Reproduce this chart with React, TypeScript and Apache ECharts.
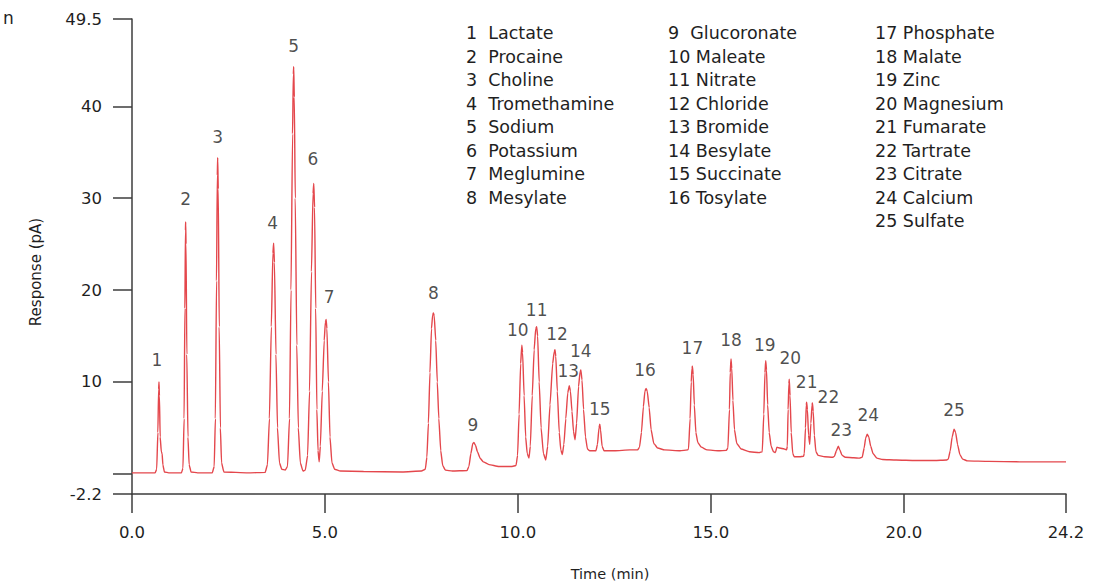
import { useEffect, useRef } from "react";
import * as echarts from "echarts";

// Analytes, in elution order (peak n = compounds[n - 1])
const compounds = [
  "Lactate", "Procaine", "Choline", "Tromethamine", "Sodium", "Potassium", "Meglumine", "Mesylate",
  "Glucoronate", "Maleate", "Nitrate", "Chloride", "Bromide", "Besylate", "Succinate", "Tosylate",
  "Phosphate", "Malate", "Zinc", "Magnesium", "Fumarate", "Tartrate", "Citrate", "Calcium", "Sulfate",
];

// Detector trace: [time (min), response (pA)]
const trace: [number, number][] = [
  [0, 0.1], [0.3, 0.1], [0.6, 0.1], [0.64, 0.5], [0.67, 4.5], [0.69, 9.2], [0.7, 10.0], [0.71, 8.5], [0.73, 4.0], [0.76, 2.4], [0.78, 2.2], [0.8, 1.0], [0.84, 0.2], [0.95, 0.1],
  [1.28, 0.1], [1.32, 0.6], [1.35, 6], [1.37, 18], [1.385, 26.5], [1.39, 27.4], [1.4, 25], [1.42, 13], [1.45, 4], [1.48, 1.0], [1.53, 0.2], [1.7, 0.1],
  [2.08, 0.1], [2.13, 0.8], [2.16, 6], [2.19, 21], [2.21, 32.5], [2.22, 34.4], [2.235, 31], [2.26, 16], [2.29, 5], [2.32, 1.2], [2.38, 0.2], [3.0, 0.1],
  [3.45, 0.15], [3.51, 1.0], [3.56, 6], [3.61, 16], [3.65, 24], [3.67, 25.1], [3.69, 23], [3.73, 13], [3.77, 5], [3.82, 1.2], [3.88, 0.5], [3.97, 0.4],
  [4.03, 0.8], [4.08, 6], [4.12, 20], [4.16, 37], [4.18, 43.5], [4.19, 44.3], [4.205, 41], [4.23, 30], [4.27, 14], [4.31, 5], [4.36, 1.2], [4.43, 0.3],
  [4.49, 0.4], [4.55, 2], [4.6, 9], [4.65, 22], [4.69, 30.5], [4.71, 31.6], [4.73, 29], [4.76, 18], [4.79, 7], [4.82, 2.5], [4.85, 1.3],
  [4.88, 3], [4.93, 9], [4.98, 14.5], [5.01, 16.5], [5.03, 16.8], [5.05, 15.8], [5.09, 10], [5.13, 4], [5.18, 1.2], [5.25, 0.5], [5.4, 0.3],
  [6.0, 0.25], [7.0, 0.2], [7.5, 0.3],
  [7.6, 0.5], [7.64, 1.8], [7.68, 5.5], [7.72, 11], [7.76, 15.8], [7.79, 17.3], [7.81, 17.5], [7.83, 17.2], [7.87, 14.5], [7.91, 10], [7.95, 6], [8.0, 2.5], [8.05, 0.9], [8.12, 0.4], [8.3, 0.3],
  [8.68, 0.35], [8.73, 0.8], [8.78, 2.2], [8.83, 3.3], [8.86, 3.4], [8.9, 3.1], [8.95, 2.4], [9.02, 1.7], [9.1, 1.3], [9.25, 1.0], [9.5, 0.8], [9.85, 0.8],
  [9.95, 0.9], [9.99, 2], [10.03, 6.5], [10.07, 12], [10.1, 14.0], [10.12, 13.2], [10.16, 8.5], [10.2, 4], [10.24, 2.2], [10.285, 1.7],
  [10.32, 3], [10.37, 8.5], [10.42, 13.5], [10.46, 15.8], [10.485, 16.0], [10.51, 15], [10.55, 10], [10.6, 5], [10.66, 2.2], [10.72, 1.5],
  [10.77, 3], [10.83, 7.5], [10.9, 12], [10.94, 13.3], [10.96, 13.5], [10.98, 12.8], [11.02, 9], [11.07, 4.5], [11.11, 2.6], [11.15, 2.1],
  [11.19, 3.2], [11.24, 6], [11.29, 8.8], [11.33, 9.6], [11.36, 9.0], [11.4, 6.8], [11.44, 4.6], [11.48, 3.7],
  [11.52, 5.5], [11.57, 9.5], [11.61, 11.1], [11.63, 11.3], [11.66, 10.2], [11.7, 7], [11.75, 4], [11.8, 2.7], [11.86, 2.5],
  [12.02, 2.5], [12.06, 3.2], [12.1, 5.0], [12.12, 5.4], [12.14, 4.8], [12.18, 3.0], [12.23, 2.5], [12.5, 2.5], [12.9, 2.6], [13.1, 2.6],
  [13.15, 2.9], [13.2, 4.5], [13.25, 7.3], [13.29, 9.0], [13.32, 9.3], [13.35, 9.0], [13.4, 7.2], [13.45, 4.8], [13.52, 3.3], [13.62, 2.8], [13.8, 2.6], [14.2, 2.5], [14.4, 2.6],
  [14.42, 2.7], [14.46, 6], [14.49, 10], [14.51, 11.5], [14.52, 11.7], [14.54, 10.8], [14.57, 7.5], [14.61, 4.5], [14.66, 3.4], [14.75, 2.9], [14.9, 2.6], [15.2, 2.5], [15.4, 2.55],
  [15.44, 2.8], [15.48, 7], [15.5, 11], [15.52, 12.5], [15.54, 11.5], [15.57, 8], [15.61, 4.8], [15.67, 3.3], [15.78, 2.7], [16.0, 2.4], [16.25, 2.3],
  [16.33, 2.4], [16.37, 6.5], [16.4, 11], [16.42, 12.3], [16.44, 11.3], [16.47, 7.5], [16.51, 4.5], [16.56, 3.0], [16.62, 2.4], [16.67, 2.3], [16.71, 2.9], [16.78, 2.8], [16.9, 2.7], [16.96, 2.6],
  [16.98, 3.0], [17.0, 7], [17.02, 9.8], [17.03, 10.3], [17.05, 8.5], [17.08, 4.5], [17.12, 2.2], [17.16, 1.85], [17.3, 1.85], [17.4, 1.9],
  [17.42, 2.2], [17.45, 5], [17.47, 7.5], [17.48, 7.8], [17.5, 7.0], [17.53, 4.2], [17.56, 3.2],
  [17.59, 5.5], [17.62, 7.5], [17.63, 7.7], [17.65, 6.8], [17.68, 4.2], [17.72, 2.4], [17.78, 2.0], [17.95, 1.85], [18.15, 1.8],
  [18.2, 1.9], [18.25, 2.5], [18.3, 3.0], [18.34, 2.6], [18.4, 2.0], [18.48, 1.8], [18.7, 1.75], [18.85, 1.7],
  [18.92, 1.8], [18.97, 2.8], [19.01, 3.9], [19.05, 4.3], [19.09, 4.0], [19.14, 3.0], [19.2, 2.2], [19.3, 1.7], [19.45, 1.55], [19.8, 1.5], [20.3, 1.45], [20.8, 1.45], [21.1, 1.5],
  [21.15, 1.6], [21.2, 2.5], [21.25, 4.0], [21.3, 4.85], [21.34, 4.5], [21.39, 3.2], [21.45, 2.1], [21.52, 1.6], [21.65, 1.4], [22.2, 1.35], [23.0, 1.3], [24.2, 1.3],
];

// Peak apexes (retention time, height) for numbering
const peakTimes = [
  0.7, 1.39, 2.22, 3.67, 4.19, 4.71, 5.03, 7.81, 8.86, 10.1, 10.485, 10.96, 11.33,
  11.63, 12.12, 13.32, 14.52, 15.52, 16.42, 17.03, 17.48, 17.63, 18.3, 19.05, 21.3,
];
const peakHeights = [
  10.0, 27.4, 34.4, 25.1, 44.3, 31.6, 16.8, 17.5, 3.4, 14.0, 16.0, 13.5, 9.6,
  11.3, 5.4, 9.3, 11.7, 12.5, 12.3, 10.3, 7.8, 7.7, 3.0, 4.3, 4.85,
];

// Axis ticks
const xTicks = [0, 5, 10, 15, 20, 24.2];
const yTicks = [-2.2, 0, 10, 20, 30, 40, 49.5];
const yTickLabels = [-2.2, 10, 20, 30, 40, 49.5];

// Pixel offset of each peak number from its apex
const labelOffsets: [number, number][] = [
  [-2, -22], [0, -23], [0, -21], [-1, -20], [0, -21], [-1, -24], [3, -22], [0, -20], [-1, -18],
  [-4, -15], [0, -17], [2, -16], [-1, -15], [0, -19], [0, -15], [-1, -18], [0, -18], [0, -19],
  [-1, -16], [1, -21], [0, -20], [16, -6], [3, -16], [1, -19], [0, -19],
];

const FONT = "'DejaVu Sans', 'Liberation Sans', Arial, sans-serif";
const TEXT = "#1f1f1f";
const AXIS = "#3c3c3c";
const TRACE = "#e4474c";

export default function App() {
  const ref = useRef<HTMLDivElement>(null);

  useEffect(() => {
    if (!ref.current) return;
    const chart = echarts.init(ref.current, undefined, { renderer: "svg" });

    const columns = [compounds.slice(0, 8), compounds.slice(8, 16), compounds.slice(16)];
    const columnX = [466, 668, 875];
    let n = 0;
    const legendTexts: any[] = [];
    columns.forEach((col, ci) => {
      col.forEach((name, ri) => {
        n += 1;
        legendTexts.push({
          type: "text",
          x: columnX[ci],
          y: 33 + ri * 23.5,
          style: {
            text: n < 10 ? `${n}  ${name}` : `${n} ${name}`,
            font: `17.5px ${FONT}`,
            fill: TEXT,
            align: "left",
            verticalAlign: "middle",
          },
        });
      });
    });

    const peakLabels = peakTimes.map((t, i) => ({
      value: [t, peakHeights[i]],
      label: { offset: labelOffsets[i], formatter: String(i + 1) },
    }));

    chart.setOption({
      animation: false,
      grid: { left: 132, right: 47, top: 19, bottom: 90, containLabel: false },
      xAxis: {
        type: "value",
        min: 0,
        max: 24.2,
        axisLine: { show: true, onZero: false, lineStyle: { color: AXIS, width: 1.5 } },
        axisTick: { show: true, customValues: xTicks, length: 19, lineStyle: { color: AXIS, width: 1.5 } },
        axisLabel: {
          customValues: xTicks,
          formatter: (v: number) => v.toFixed(1),
          margin: 30,
          color: TEXT,
          fontSize: 16.5,
          fontFamily: FONT,
        },
        splitLine: { show: false },
      },
      yAxis: {
        type: "value",
        min: -2.2,
        max: 49.5,
        axisLine: { show: true, onZero: false, lineStyle: { color: AXIS, width: 1.5 } },
        axisTick: { show: true, customValues: yTicks, length: 19, lineStyle: { color: AXIS, width: 1.5 } },
        axisLabel: {
          customValues: yTickLabels,
          margin: 30,
          color: TEXT,
          fontSize: 16.5,
          fontFamily: FONT,
        },
        splitLine: { show: false },
      },
      series: [
        {
          type: "line",
          data: trace,
          symbol: "none",
          smooth: 0.15,
          smoothMonotone: "x",
          lineStyle: { color: TRACE, width: 1.4 },
          silent: true,
          z: 2,
        },
        {
          type: "scatter",
          data: peakLabels,
          symbolSize: 1,
          itemStyle: { color: "rgba(0,0,0,0)" },
          silent: true,
          label: {
            show: true,
            position: "inside",
            color: TEXT,
            fontSize: 17,
            fontFamily: FONT,
          },
          z: 3,
        },
      ],
      graphic: [
        ...legendTexts,
        {
          type: "text",
          x: 610,
          y: 574,
          style: { text: "Time (min)", font: `14.5px ${FONT}`, fill: TEXT, align: "center", verticalAlign: "middle" },
        },
        {
          type: "text",
          x: 36,
          y: 272,
          rotation: Math.PI / 2,
          style: { text: "Response (pA)", font: `15px ${FONT}`, fill: TEXT, align: "center", verticalAlign: "middle" },
        },
        {
          type: "text",
          x: 3,
          y: 18,
          style: { text: "n", font: `17px ${FONT}`, fill: TEXT, align: "left", verticalAlign: "middle" },
        },
      ],
    });

    return () => chart.dispose();
  }, []);

  return (
    <div
      ref={ref}
      style={{ position: "fixed", left: 0, top: 0, width: 1113, height: 584, background: "#ffffff" }}
    />
  );
}
